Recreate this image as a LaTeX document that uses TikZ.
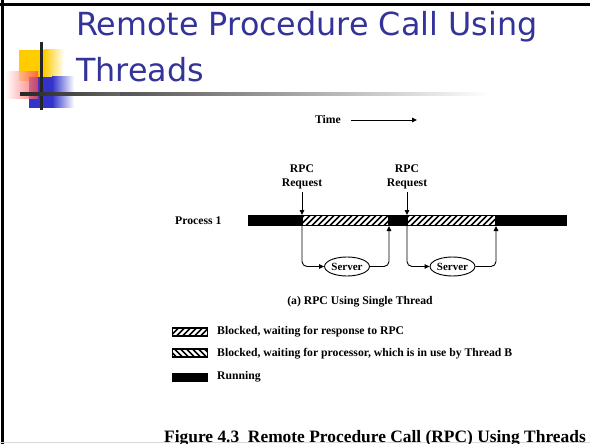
\documentclass[tikz,border=0pt]{standalone}
\usepackage{fontspec}
\setmainfont{Liberation Serif}
\newfontfamily\titlefont{DejaVu Sans}
\usetikzlibrary{arrows.meta,shapes.geometric}
\definecolor{titleblue}{RGB}{51,51,153}
\definecolor{logoyellow}{RGB}{255,204,0}
\definecolor{logored}{RGB}{255,70,70}
\definecolor{logoblue}{RGB}{51,51,204}
\tikzset{
  lbl/.style={font=\bfseries\fontsize{11.7}{13}\selectfont, inner sep=0pt},
  flow/.style={line width=0.9pt, -{Triangle[length=5pt,width=4.5pt]}},
  srvnode/.style={ellipse, draw, line width=0.9pt, inner sep=0.3pt, minimum width=42pt, minimum height=19pt, font=\bfseries\fontsize{11}{12}\selectfont},
  titletext/.style={anchor=base west, inner sep=0pt, text=titleblue, font=\titlefont\fontsize{31.8}{36}\selectfont},
}
% hatched block: #1 = direction (+1 for /, -1 for \), #2 = x0, #3 = y0, #4 = x1, #5 = y1
\newcommand\hatchblock[5]{%
  \fill[white] (#2,#3) rectangle (#4,#5);
  \begin{scope}
    \clip (#2,#3) rectangle (#4,#5);
    \foreach \k in {-20,-14,...,120}{
      \pgfmathsetmacro\xa{#2+\k}
      \draw[line width=1.6pt] (\xa,#5) -- ++({#1*(#5-#3)},{-(#5-#3)});
    }
  \end{scope}
  \draw[line width=1.4pt] (#2,#3) rectangle (#4,#5);
}
\begin{document}
\begin{tikzpicture}[x=1pt,y=-1pt]
\useasboundingbox (0,0) rectangle (590,444);
\fill[white] (0,0) rectangle (590,444);

% slide frame
\draw[line width=2.5pt] (0,4.5) -- (590,4.5);
\draw[line width=2.5pt] (2.5,0) -- (2.5,444);
\draw[black!15, line width=1pt] (0,442) -- (590,442);

% logo squares
\fill[logoyellow] (19,50) rectangle (44,81);
\shade[left color=logoyellow, right color=white] (44,50) rectangle (64,81);
\fill[logoblue] (29,77) rectangle (52,108);
\shade[left color=logoblue, right color=white] (52,77) rectangle (74,108);
\shade[left color=white, right color=logored, opacity=0.75] (5,72) rectangle (38,99);
\draw[line width=3pt, black!85] (41,42) -- (41,110);
\shade[left color=black!85, right color=white] (20,93) rectangle (490,95.5);
\shade[left color=black!85, right color=black!60] (20,93) rectangle (120,95.5);

% title
\node[titletext] (title1) at (76,36) {Remote Procedure Call Using};
\node[titletext] (title2) at (76,82) {Threads};

% time axis
\node[lbl, anchor=east] (time) at (341,119) {Time};
\coordinate (timeend) at (417,120);
\draw[line width=0.9pt, -{Triangle[length=5pt,width=4.5pt]}] (351,120) -- (timeend);

% process line
\node[lbl, anchor=west] (proc) at (175,221) {Process 1};
\fill (248,215) rectangle (567,226);
\hatchblock{1}{302}{215.5}{389}{225.5}
\hatchblock{1}{407}{215.5}{496}{225.5}
\coordinate (in1) at (302,215);
\coordinate (out1) at (302,226);
\coordinate (ret1) at (389,226);
\coordinate (in2) at (407,215);
\coordinate (out2) at (407,226);
\coordinate (ret2) at (496,226);

% RPC requests
\node[lbl, align=center] (rpc1) at (302,177) {RPC\\[1pt]Request};
\node[lbl, align=center] (rpc2) at (407,177) {RPC\\[1pt]Request};
\draw[flow] (rpc1.south -| in1) ++(0,3) -- (in1);
\draw[flow] (rpc2.south -| in2) ++(0,3) -- (in2);

% servers
\node[srvnode] (srv1) at (347,266.5) {Server};
\node[srvnode] (srv2) at (452.5,266.5) {Server};
\draw[flow, rounded corners=5pt] (out1) |- (srv1.west);
\draw[flow, rounded corners=5pt] (srv1.east) -| (ret1);
\draw[flow, rounded corners=5pt] (out2) |- (srv2.west);
\draw[flow, rounded corners=5pt] (srv2.east) -| (ret2);

\node[lbl] (sub) at (360,302) {(a) RPC Using Single Thread};

% legend
\hatchblock{1}{172.5}{328}{207.5}{336}
\node[lbl, anchor=west] (leg1) at (217,332) {Blocked, waiting for response to RPC};
\hatchblock{-1}{172.5}{349}{207.5}{357}
\node[lbl, anchor=west] (leg2) at (217,353.5) {Blocked, waiting for processor, which is in use by Thread B};
\fill (172,373) rectangle (208,382);
\node[lbl, anchor=west] (leg3) at (217,377) {Running};

% caption
\node[anchor=base west, inner sep=0pt, font=\bfseries\fontsize{17.4}{19}\selectfont] (cap) at (164,442) {Figure 4.3\ \ Remote Procedure Call (RPC) Using Threads};
\end{tikzpicture}
\end{document}
